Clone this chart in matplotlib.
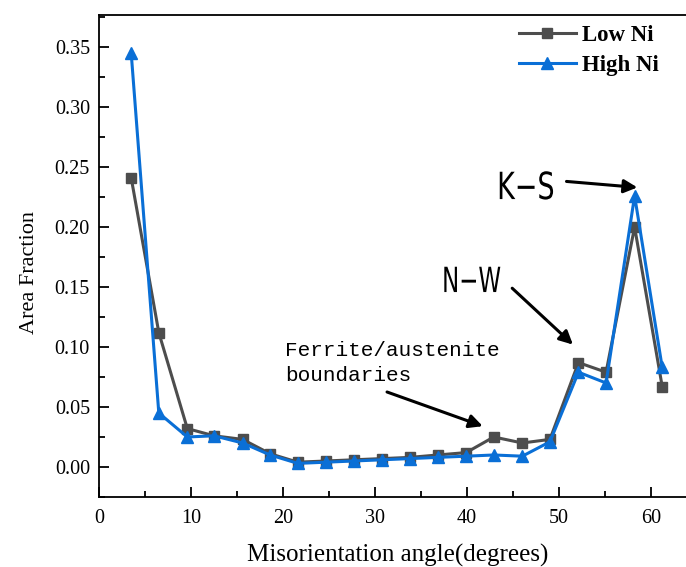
import matplotlib
matplotlib.use("Agg")  # Sin pantalla
import matplotlib.pyplot as plt  # Importa matplotlib para graficar
from matplotlib.ticker import MultipleLocator  # Para las marcas menores
from matplotlib.patheffects import AbstractPathEffect  # Para estrechar texto
from matplotlib.transforms import Affine2D

# Datos
angulos = [3.5, 6.5, 9.6, 12.5, 15.6, 18.6, 21.6, 24.7, 27.7, 30.8,
           33.8, 36.8, 39.9, 42.9, 46.0, 49.0, 52.1, 55.1, 58.2, 61.2]
low_ni = [0.241, 0.112, 0.032, 0.026, 0.023, 0.011, 0.004, 0.005, 0.006, 0.007,
          0.008, 0.010, 0.012, 0.025, 0.020, 0.023, 0.087, 0.079, 0.200, 0.067]
high_ni = [0.345, 0.045, 0.025, 0.026, 0.020, 0.010, 0.003, 0.004, 0.005, 0.006,
           0.007, 0.008, 0.009, 0.010, 0.009, 0.021, 0.079, 0.070, 0.226, 0.083]
etiquetas = ["Low Ni", "High Ni"]


class Estrechar(AbstractPathEffect):
    # Comprime el texto en horizontal (no hay fuente condensada instalada)
    def __init__(self, factor):
        super().__init__()
        self.factor = factor

    def draw_path(self, renderer, gc, tpath, affine, rgbFace=None):
        m = affine.get_matrix()
        x0, y0 = m[0, 2], m[1, 2]  # Origen del texto
        extra = Affine2D().translate(-x0, -y0).scale(self.factor, 1).translate(x0, y0)
        renderer.draw_path(gc, tpath, affine + extra, rgbFace)


def generar_grafica(salida):
    plt.rcParams['font.family'] = ['Liberation Serif', 'DejaVu Serif']  # Fuente tipo Times

    fig = plt.figure(figsize=(6.86, 5.67), dpi=100)  # Tamaño 686x567
    ax = fig.add_axes([0.1443, 0.1235, 0.872, 0.850])  # El borde derecho queda fuera

    # Dibujar las dos series
    ax.plot(angulos, low_ni, color='#4d4d4d', marker='s', markersize=7,
            linewidth=2.2, label=etiquetas[0])
    ax.plot(angulos, high_ni, color='#0a6fd6', marker='^', markersize=8,
            linewidth=2.2, label=etiquetas[1])

    # Limites y marcas de los ejes
    ax.set_xlim(0, 65)
    ax.set_ylim(-0.025, 0.3767)
    ax.xaxis.set_major_locator(MultipleLocator(10))
    ax.xaxis.set_minor_locator(MultipleLocator(5))
    ax.yaxis.set_major_locator(MultipleLocator(0.05))
    ax.yaxis.set_minor_locator(MultipleLocator(0.025))
    ax.yaxis.set_major_formatter(plt.FormatStrFormatter('%.2f'))
    ax.tick_params(which='both', direction='in', top=False, right=False,
                   labelsize=14.5, width=1.3)
    ax.tick_params(which='major', length=7)
    ax.tick_params(which='minor', length=4)
    ax.tick_params(axis='y', pad=6.5)
    ax.tick_params(axis='x', pad=9)
    ax.spines['right'].set_visible(False)
    for lado in ['left', 'bottom', 'top']:
        ax.spines[lado].set_linewidth(1.3)

    ax.set_xlabel("Misorientation angle(degrees)", fontsize=18)
    ax.xaxis.set_label_coords(0.5, -0.0975)
    ax.set_ylabel("Area Fraction", fontsize=16)
    ax.yaxis.set_label_coords(-0.1, 0.465)

    # Leyenda sin marco, en negrita
    ax.legend(loc='upper right', bbox_to_anchor=(0.97, 1.022), frameon=False,
              prop={'weight': 'bold', 'size': 16.5}, handlelength=2.5,
              labelspacing=0.4, handletextpad=0.25)

    # Anotaciones con flechas
    flecha = dict(arrowstyle='-|>', color='black', lw=2.2, mutation_scale=20,
                  shrinkA=0, shrinkB=0)
    ax.annotate("", xy=(58.5, 0.233), xytext=(50.8, 0.238), arrowprops=flecha)
    ax.text(43.26, 0.2233, "K\u2212S", fontsize=27, ha='left', va='baseline',
            family='DejaVu Sans', path_effects=[Estrechar(0.72)])
    ax.annotate("", xy=(51.5, 0.102), xytext=(44.9, 0.149), arrowprops=flecha)
    ax.text(37.28, 0.1458, "N\u2212W", fontsize=25, ha='left', va='baseline',
            family='DejaVu Sans', path_effects=[Estrechar(0.66)])
    ax.annotate("", xy=(41.7, 0.034), xytext=(31.3, 0.0625), arrowprops=flecha)
    ax.text(20.2, 0.0867, "Ferrite/austenite\nboundaries", fontsize=15.1,
            family='Liberation Mono', ha='left', va='center', linespacing=1.4)

    fig.savefig(salida, dpi=100)  # Guarda la figura
    plt.close(fig)


if __name__ == "__main__":
    generar_grafica("out.png")
